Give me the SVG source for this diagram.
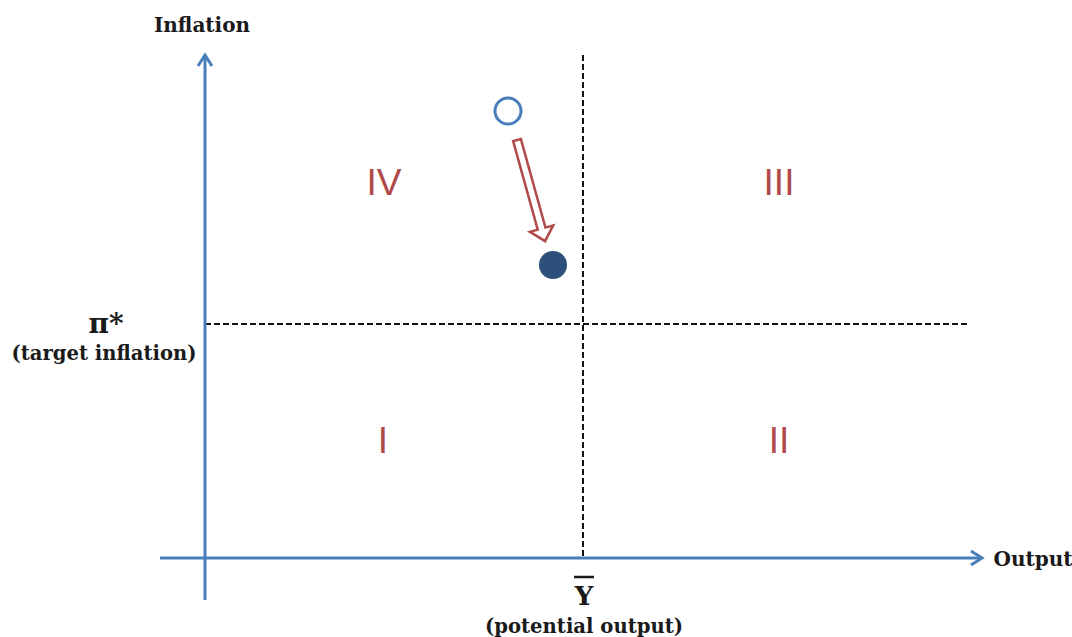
<svg xmlns="http://www.w3.org/2000/svg" width="1072" height="637" viewBox="0 0 1072 637">
<style>
.axis{stroke:#4a7ebb;stroke-width:3;fill:none}
.dash{stroke:#111;stroke-width:2;stroke-dasharray:6,3;fill:none}
.lbl{font-family:"DejaVu Serif","Liberation Serif",serif;font-weight:bold;fill:#1a1a1a;text-anchor:middle}
.rom{font-family:"Liberation Sans","DejaVu Sans",sans-serif;font-size:37px;fill:#b04a4a;text-anchor:middle}
</style>
<rect width="1072" height="637" fill="#fff"/>
<g id="connectors">
<line class="dash" x1="583" y1="55" x2="583" y2="558"/>
<line class="dash" x1="205" y1="324" x2="970" y2="324"/>
<line class="axis" x1="205" y1="600" x2="205" y2="57"/>
<polyline class="axis" points="198,66 205,55 212,66"/>
<line class="axis" x1="160" y1="558" x2="981" y2="558"/>
<polyline class="axis" points="971,551 982,558 971,565"/>
<polygon transform="translate(517,140) rotate(74.5)" points="0,-4 92,-4 92,-12 105,0 92,12 92,4 0,4" fill="#fff" stroke="#b04a4a" stroke-width="2.5" stroke-linejoin="miter"/>
</g>
<g id="start-point"><circle cx="508" cy="111" r="13" fill="#fff" stroke="#4a7ebb" stroke-width="3"/></g>
<g id="end-point"><circle cx="553" cy="265" r="14" fill="#2c4f7c"/></g>
<g id="quadrant-IV"><text class="rom" x="384" y="195">IV</text></g>
<g id="quadrant-III"><text class="rom" x="779" y="195">III</text></g>
<g id="quadrant-I"><text class="rom" x="383" y="453">I</text></g>
<g id="quadrant-II"><text class="rom" x="779" y="453">II</text></g>
<g id="label-inflation"><text class="lbl" x="202" y="32" font-size="20">Inflation</text></g>
<g id="label-output"><text class="lbl" x="1033" y="566" font-size="20">Output</text></g>
<g id="label-target"><text class="lbl" x="106" y="333" font-size="28">π*</text><text class="lbl" x="104" y="360" font-size="19.5" textLength="185" lengthAdjust="spacingAndGlyphs">(target inflation)</text></g>
<g id="label-potential"><line x1="574" y1="577" x2="594" y2="577" stroke="#1a1a1a" stroke-width="2.5"/><text class="lbl" x="584" y="605" font-size="26">Y</text><text class="lbl" x="584" y="633" font-size="20" textLength="198" lengthAdjust="spacingAndGlyphs">(potential output)</text></g>
</svg>
